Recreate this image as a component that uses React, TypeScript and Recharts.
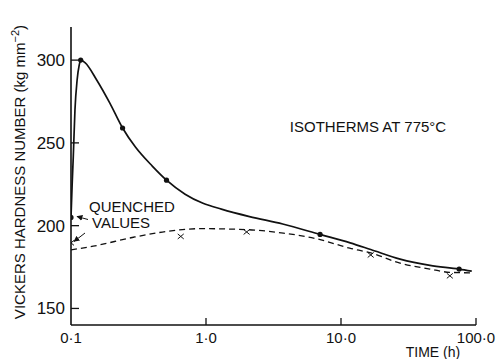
import { ComposedChart, Line, Scatter, XAxis, YAxis } from "recharts";

// log time axis (h)
const xTicks = [0.1, 1, 10, 100];
const xTickLabels = ["0·1", "1·0", "10·0", "100·0"];
const yTicks = [150, 200, 250, 300];

// solid curve
const solidCurve = [
  { x: 0.1, y: 205 },
  { x: 0.102, y: 225 },
  { x: 0.104, y: 242 },
  { x: 0.107, y: 270 },
  { x: 0.111, y: 288 },
  { x: 0.115, y: 297 },
  { x: 0.118, y: 300 },
  { x: 0.127, y: 298.5 },
  { x: 0.155, y: 288 },
  { x: 0.194, y: 274 },
  { x: 0.241, y: 259 },
  { x: 0.3, y: 247.5 },
  { x: 0.4, y: 236 },
  { x: 0.51, y: 227.5 },
  { x: 0.7, y: 219 },
  { x: 0.95, y: 213.5 },
  { x: 1.3, y: 210 },
  { x: 2.1, y: 205.5 },
  { x: 3.7, y: 201 },
  { x: 7.0, y: 194.7 },
  { x: 11.7, y: 189.6 },
  { x: 16.6, y: 185.6 },
  { x: 27.4, y: 179.8 },
  { x: 45.6, y: 176 },
  { x: 75, y: 173.8 },
  { x: 93, y: 172.5 },
];

const solidDots = [
  { x: 0.1, y: 205 },
  { x: 0.118, y: 300 },
  { x: 0.241, y: 259 },
  { x: 0.51, y: 227.5 },
  { x: 7.0, y: 194.7 },
  { x: 75, y: 173.8 },
];

// dashed curve
const dashedCurve = [
  { x: 0.1, y: 185.4 },
  { x: 0.146, y: 187.6 },
  { x: 0.29, y: 193 },
  { x: 0.51, y: 196.5 },
  { x: 0.9, y: 198.2 },
  { x: 2.0, y: 197.6 },
  { x: 3.74, y: 195.5 },
  { x: 6.6, y: 192.1 },
  { x: 11.6, y: 186.4 },
  { x: 16.6, y: 183.5 },
  { x: 27.4, y: 177.4 },
  { x: 45.6, y: 173.8 },
  { x: 64, y: 171.8 },
  { x: 93, y: 171.5 },
];

const crosses = [
  { x: 0.1, y: 189.6 },
  { x: 0.65, y: 193.5 },
  { x: 2.0, y: 196.2 },
  { x: 16.6, y: 182.3 },
  { x: 64, y: 169.7 },
];

const INK = "#111";
const FONT = "'Liberation Sans', Arial, sans-serif";

const XTick = (props: any) => {
  const { x, y, payload, index } = props;
  return (
    <g>
      {index > 0 && <line x1={x} x2={x} y1={y} y2={y - 7} stroke={INK} strokeWidth={1.3} />}
      <text x={x} y={y + 18} textAnchor="middle" fontSize={15} fontFamily={FONT} fill={INK}>
        {xTickLabels[xTicks.indexOf(payload.value)]}
      </text>
    </g>
  );
};

const YTick = (props: any) => {
  const { x, y, payload } = props;
  return (
    <g>
      <line x1={x} x2={x + 8} y1={y} y2={y} stroke={INK} strokeWidth={1.3} />
      <text x={x - 6} y={y + 6} textAnchor="end" fontSize={17} fontFamily={FONT} fill={INK}>
        {payload.value}
      </text>
    </g>
  );
};

const Dot = (props: any) => <circle cx={props.cx} cy={props.cy} r={2.6} fill={INK} />;

const Cross = (props: any) => {
  const { cx, cy } = props;
  return (
    <g stroke={INK} strokeWidth={1}>
      <line x1={cx - 3} y1={cy - 2.5} x2={cx + 3} y2={cy + 2.5} />
      <line x1={cx - 3} y1={cy + 2.5} x2={cx + 3} y2={cy - 2.5} />
    </g>
  );
};

export default function App() {
  return (
    <div style={{ position: "absolute", left: 0, top: 0, width: 500, height: 359, background: "#fff" }}>
      <ComposedChart width={500} height={359} margin={{ top: 27, right: 24, left: 0, bottom: 0 }}>
        <XAxis
          dataKey="x"
          type="number"
          scale="log"
          domain={[0.1, 100]}
          ticks={xTicks}
          allowDataOverflow
          height={34}
          tickSize={0}
          tickMargin={0}
          tickLine={false}
          axisLine={{ stroke: INK, strokeWidth: 1.6 }}
          tick={<XTick />}
        />
        <YAxis
          dataKey="y"
          type="number"
          domain={[140, 320]}
          ticks={yTicks}
          allowDataOverflow
          width={71}
          tickSize={0}
          tickMargin={0}
          tickLine={false}
          axisLine={{ stroke: INK, strokeWidth: 1.6 }}
          tick={<YTick />}
        />
        <Line
          data={dashedCurve}
          dataKey="y"
          type="monotone"
          stroke={INK}
          strokeWidth={1.3}
          strokeDasharray="6 4"
          dot={false}
          activeDot={false}
          isAnimationActive={false}
        />
        <Line
          data={solidCurve}
          dataKey="y"
          type="monotone"
          stroke={INK}
          strokeWidth={1.7}
          dot={false}
          activeDot={false}
          isAnimationActive={false}
        />
        <Scatter data={solidDots} dataKey="y" shape={<Dot />} isAnimationActive={false} />
        <Scatter data={crosses} dataKey="y" shape={<Cross />} isAnimationActive={false} />
      </ComposedChart>
      <svg
        width={500}
        height={359}
        style={{ position: "absolute", left: 0, top: 0, pointerEvents: "none" }}
        fontFamily={FONT}
        fill={INK}
      >
        <defs>
          <marker id="ah" viewBox="0 0 10 10" refX="9" refY="5" markerWidth="6" markerHeight="6" orient="auto-start-reverse">
            <path d="M0,0 L10,5 L0,10 z" fill={INK} />
          </marker>
        </defs>
        <text transform="translate(25,172) rotate(-90)" textAnchor="middle" fontSize={15}>
          VICKERS HARDNESS NUMBER (kg mm
          <tspan fontSize={11} dy={-6}>−2</tspan>
          <tspan dy={6}>)</tspan>
        </text>
        <text x={368} y={132} textAnchor="middle" fontSize={15}>
          ISOTHERMS AT 775°C
        </text>
        <text x={89} y={212} fontSize={15}>QUENCHED</text>
        <text x={92} y={228} fontSize={15}>VALUES</text>
        <line x1={88} y1={219.5} x2={77} y2={216.5} stroke={INK} strokeWidth={1} markerEnd="url(#ah)" />
        <line x1={85} y1={233} x2={74} y2={241.5} stroke={INK} strokeWidth={1} markerEnd="url(#ah)" />
        <text x={433} y={357} textAnchor="middle" fontSize={14}>
          TIME (h)
        </text>
      </svg>
    </div>
  );
}
